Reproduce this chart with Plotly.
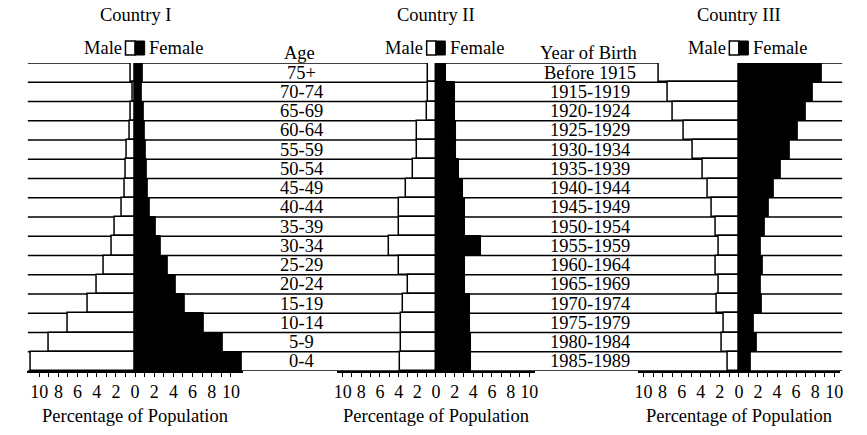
import plotly.graph_objects as go

W, H = 867, 435

age_groups = ["75+", "70-74", "65-69", "60-64", "55-59", "50-54", "45-49", "40-44",
              "35-39", "30-34", "25-29", "20-24", "15-19", "10-14", "5-9", "0-4"]
birth_years = ["Before 1915", "1915-1919", "1920-1924", "1925-1929", "1930-1934",
               "1935-1939", "1940-1944", "1945-1949", "1950-1954", "1955-1959",
               "1960-1964", "1965-1969", "1970-1974", "1975-1979", "1980-1984", "1985-1989"]

c1_male = [0.4, 0.25, 0.45, 0.6, 0.85, 0.95, 1.1, 1.4, 2.1, 2.4, 3.3, 4.0, 4.9, 7.0, 9.0, 10.9]
c1_female = [0.8, 0.65, 0.95, 1.0, 1.1, 1.2, 1.3, 1.55, 2.2, 2.7, 3.4, 4.2, 5.2, 7.2, 9.1, 11.1]

c2_male = [0.9, 0.9, 1.0, 2.0, 2.0, 2.5, 3.2, 4.0, 4.0, 5.0, 4.0, 3.0, 3.5, 3.7, 3.75, 3.8]
c2_female = [1.05, 2.0, 2.0, 2.1, 2.1, 2.45, 2.9, 3.1, 3.1, 4.8, 3.1, 3.1, 3.6, 3.7, 3.8, 3.8]

c3_male = [8.4, 7.45, 6.9, 5.8, 4.8, 3.75, 3.3, 2.85, 2.45, 2.1, 2.45, 2.15, 2.35, 1.55, 1.8, 1.2]
c3_female = [8.7, 7.8, 7.0, 6.2, 5.3, 4.35, 3.65, 3.1, 2.7, 2.3, 2.5, 2.25, 2.45, 1.55, 1.85, 1.3]

titles = ["Country I", "Country II", "Country III"]
tick_vals = list(range(-10, 11))
tick_text = [str(abs(v)) if v % 2 == 0 else "" for v in tick_vals]

FONT = "Liberation Serif"
FS = 18.5

# panel geometry (pixels): zero position, px per unit, half range
panels = [(133, 9.65, 11.3), (436, 9.4, 10.6), (741, 9.6, 10.6)]
top_px, bot_px = 63, 371

def px(x):
    return x / W

def py(y):
    return 1 - y / H

fig = go.Figure()

series = [(c1_male, c1_female, age_groups, "x", "y"),
          (c2_male, c2_female, age_groups, "x2", "y"),
          (c3_male, c3_female, birth_years, "x3", "y2")]

for male, female, cats, xa, ya in series:
    fig.add_trace(go.Bar(y=cats, x=[-v for v in male], orientation="h",
                         marker=dict(color="white", line=dict(color="black", width=1.5)),
                         xaxis=xa, yaxis=ya, showlegend=False, hoverinfo="skip"))
    fig.add_trace(go.Bar(y=cats, x=female, orientation="h",
                         marker=dict(color="black", line=dict(color="black", width=1)),
                         xaxis=xa, yaxis=ya, showlegend=False, hoverinfo="skip"))

layout = dict(width=W, height=H, margin=dict(l=0, r=0, t=0, b=0),
              paper_bgcolor="white", plot_bgcolor="rgba(0,0,0,0)",
              barmode="overlay", bargap=0,
              font=dict(family=FONT, size=FS, color="black"))

n = len(age_groups)
ydom = [py(bot_px), py(top_px)]
layout["yaxis"] = dict(domain=ydom, type="category", categoryarray=age_groups,
                       range=[n - 0.5, -0.5], showticklabels=False, showgrid=False,
                       zeroline=False, showline=False, ticks="", anchor="x")
layout["yaxis2"] = dict(domain=ydom, type="category", categoryarray=birth_years,
                        range=[n - 0.5, -0.5], showticklabels=False, showgrid=False,
                        zeroline=False, showline=False, ticks="", anchor="x3")

annotations = []
shapes = []
for i, (zero, scale, half) in enumerate(panels):
    key = "xaxis" if i == 0 else f"xaxis{i+1}"
    xref = "x" if i == 0 else f"x{i+1}"
    layout[key] = dict(domain=[px(zero - half * scale), px(zero + half * scale)],
                       range=[-half, half], anchor="y" if i < 2 else "y2",
                       tickvals=tick_vals, ticktext=tick_text, ticks="outside",
                       ticklen=4, tickwidth=1, tickcolor="black",
                       showline=True, linecolor="black", linewidth=1.5,
                       showgrid=False, zeroline=False,
                       tickfont=dict(family=FONT, size=18, color="black"))
    annotations.append(dict(text=titles[i], x=0, xref=xref, y=py(15), yref="paper",
                            showarrow=False, xanchor="center", yanchor="middle"))
    annotations.append(dict(text="Percentage of Population", x=0, xref=xref,
                            y=py(416), yref="paper", showarrow=False,
                            xanchor="center", yanchor="middle"))
    # legend
    annotations.append(dict(text="Male", x=-1.15, xref=xref, y=py(48), yref="paper",
                            showarrow=False, xanchor="right", yanchor="middle"))
    annotations.append(dict(text="Female", x=1.25, xref=xref, y=py(48), yref="paper",
                            showarrow=False, xanchor="left", yanchor="middle"))
    shapes.append(dict(type="rect", xref=xref, yref="paper", x0=-1.0, x1=0,
                       y0=py(55), y1=py(41), fillcolor="white",
                       line=dict(color="black", width=1.5)))
    shapes.append(dict(type="rect", xref=xref, yref="paper", x0=0, x1=1.0,
                       y0=py(55), y1=py(41), fillcolor="black",
                       line=dict(color="black", width=1)))

# row lines across full width
for k in range(n + 1):
    shapes.append(dict(type="line", xref="paper", yref="y", x0=px(25), x1=px(845),
                       y0=k - 0.5, y1=k - 0.5, layer="below",
                       line=dict(color="black", width=1.3)))

# label columns
annotations.append(dict(text="Age", x=px(299), xref="paper", y=py(53), yref="paper",
                        showarrow=False, xanchor="center", yanchor="middle"))
annotations.append(dict(text="Year of Birth", x=px(590), xref="paper", y=py(53),
                        yref="paper", showarrow=False, xanchor="center", yanchor="middle"))
for a in age_groups:
    annotations.append(dict(text=a, x=px(301), xref="paper", y=a, yref="y",
                            showarrow=False, xanchor="center", yanchor="middle"))
for b in birth_years:
    annotations.append(dict(text=b, x=px(591), xref="paper", y=b, yref="y2",
                            showarrow=False, xanchor="center", yanchor="middle"))

layout["annotations"] = annotations
layout["shapes"] = shapes
fig.update_layout(**layout)
fig.write_html("out.html")
